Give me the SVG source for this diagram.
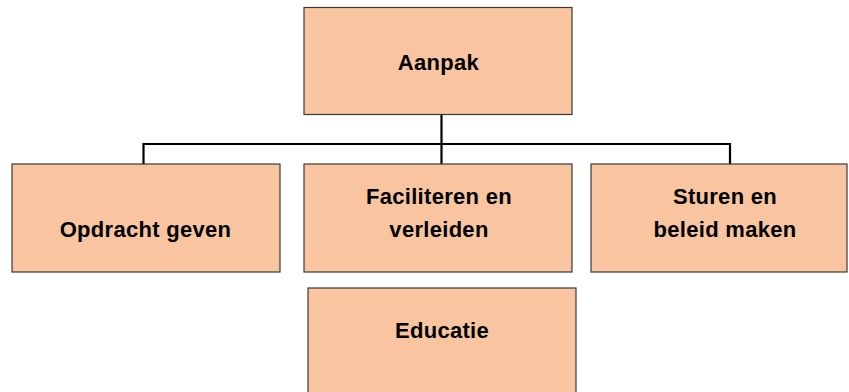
<svg xmlns="http://www.w3.org/2000/svg" width="849" height="392" viewBox="0 0 849 392">
<style>
.box{fill:#F8C5A0;stroke:#3a3a3a;stroke-width:1.2}
.lbl{font-family:"Liberation Sans",Arial,sans-serif;font-weight:bold;font-size:22px;letter-spacing:0.3px;fill:#000;text-anchor:middle}
.con{fill:none;stroke:#000;stroke-width:2.2}
</style>
<rect width="849" height="392" fill="#fff"/>
<g id="connectors">
<path class="con" d="M441.5 114 V164 M143.5 164 V144 H730 V164"/>
</g>
<g id="aanpak">
<rect class="box" x="304" y="7.5" width="268" height="107"/>
<text class="lbl" x="438.5" y="70">Aanpak</text>
</g>
<g id="opdracht">
<rect class="box" x="12" y="164" width="268" height="108"/>
<text class="lbl" x="145.5" y="237">Opdracht geven</text>
</g>
<g id="faciliteren">
<rect class="box" x="304" y="164" width="268" height="108"/>
<text class="lbl" x="439" y="204">Faciliteren en</text>
<text class="lbl" x="439" y="237">verleiden</text>
</g>
<g id="sturen">
<rect class="box" x="591" y="164" width="256" height="108"/>
<text class="lbl" x="725" y="204">Sturen en</text>
<text class="lbl" x="725" y="237">beleid maken</text>
</g>
<g id="educatie">
<rect class="box" x="308" y="288" width="268" height="106"/>
<text class="lbl" x="442" y="338">Educatie</text>
</g>
</svg>
